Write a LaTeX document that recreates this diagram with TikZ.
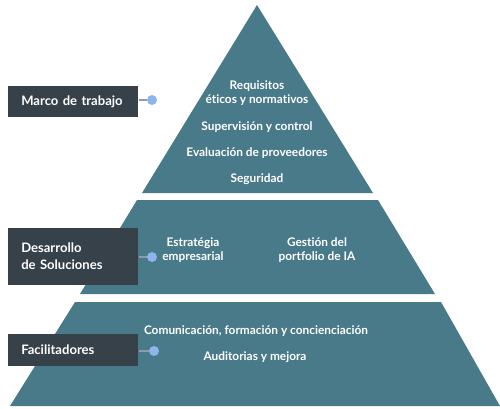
\documentclass[tikz,border=0pt]{standalone}
\usepackage{fontspec}
\setmainfont{Lato}[Ligatures=NoCommon]
\usetikzlibrary{positioning}
\definecolor{pyrteal}{HTML}{497A8A}
\definecolor{tagslate}{HTML}{36414A}
\definecolor{dotblue}{HTML}{8DB4EE}
\definecolor{linkgray}{HTML}{8C9CA8}
\tikzset{
  layertxt/.style={text=white,font=\bfseries\fontsize{8.9}{10.5}\selectfont,align=center,inner sep=0.75pt},
  tagbox/.style={fill=tagslate,text=white,font=\bfseries\fontsize{9.8}{12.5}\selectfont,align=left,anchor=west,
    minimum width=97.5pt,text width=78pt,inner xsep=9.75pt,inner ysep=0pt},
  tagdot/.style={circle,fill=dotblue,minimum size=7.5pt,inner sep=0pt},
  link/.style={draw=linkgray,line width=1.1pt}
}
\begin{document}
\begin{tikzpicture}[x=0.75pt,y=0.75pt,yscale=-1,xscale=1]
\useasboundingbox (0,0) rectangle (500,408);
%Shape: Triangle top layer
\fill [pyrteal] (257,5) -- (373,193) -- (142,193) -- cycle ;
%Shape: Trapezoid middle layer
\fill [pyrteal] (137,200) -- (378,200) -- (435,294) -- (80,294) -- cycle ;
%Shape: Trapezoid bottom layer
\fill [pyrteal] (75,302) -- (441,302) -- (500,406) -- (10,406) -- cycle ;
% Text Node
\node [layertxt] (req) at (257,93) {Requisitos\\éticos y normativos};
\node [layertxt] (sup) at (257,127) {Supervisión y control};
\node [layertxt] (eva) at (257,153) {Evaluación de proveedores};
\node [layertxt] (seg) at (257,179) {Seguridad};
\node [layertxt] (est) at (193,250) {Estratégia\\empresarial};
\node [layertxt] (ges) at (317,250) {Gestión del\\portfolio de IA};
\node [layertxt] (com) at (256,331) {Comunicación, formación y concienciación};
\node [layertxt] (aud) at (255,357) {Auditorias y mejora};
% Tag boxes
\node [tagbox,minimum height=23.25pt] (marco) at (8,101.5) {Marco de trabajo};
\node [tagbox,minimum height=42.75pt] (desa) at (8,256.5) {Desarrollo\\de Soluciones};
\node [tagbox,minimum height=24pt] (faci) at (8,350) {Facilitadores};
% Dots and links
\node [tagdot] (dmarco) at (152,100) {};
\node [tagdot] (ddesa) at (152,257) {};
\node [tagdot] (dfaci) at (154,351) {};
\draw [link] (marco.east |- dmarco) -- (dmarco) ;
\draw [link] (desa.east |- ddesa) -- (ddesa) ;
\draw [link] (faci.east |- dfaci) -- (dfaci) ;
\end{tikzpicture}
\end{document}
